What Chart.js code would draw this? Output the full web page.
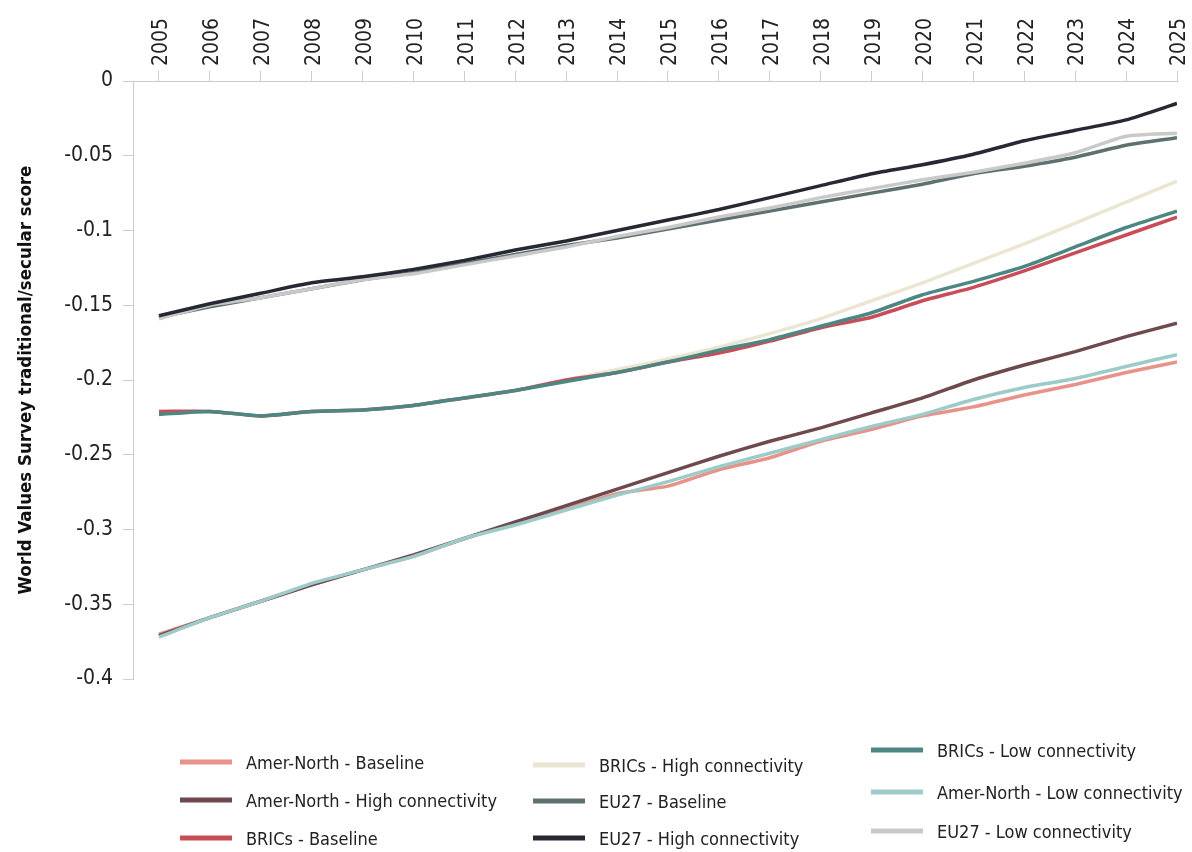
<!DOCTYPE html>
<html>
<head>
<meta charset="utf-8">
<script src="https://cdn.jsdelivr.net/npm/chart.js@4"></script>
<style>
  body { margin: 0; background: #fff; }
  .wrap { position: relative; width: 1192px; height: 852px; overflow: hidden; }
  canvas { position: absolute; left: 0; top: 0; }
  .legend { position: absolute; left: 0; top: 0; width: 1192px; height: 852px; pointer-events: none;
    font-family: 'Liberation Sans Narrow', 'DejaVu Sans Condensed', sans-serif; font-size: 18px; color: #222; }
  .item { position: absolute; display: flex; align-items: center; white-space: nowrap; transform: translateY(-50%); }
  .item span.swatch { display: inline-block; width: 52px; height: 5px; margin-right: 14px; }
</style>
</head>
<body>
<div class="wrap">
  <canvas id="chart" width="1192" height="852"></canvas>
  <div class="legend" id="legend"></div>
</div>
<script>
const years = [2005, 2006, 2007, 2008, 2009, 2010, 2011, 2012, 2013, 2014, 2015, 2016, 2017, 2018, 2019, 2020, 2021, 2022, 2023, 2024, 2025]

const amerNorthBaseline = [-0.370, -0.359, -0.348, -0.337, -0.327, -0.318, -0.306, -0.296, -0.286, -0.276, -0.271, -0.260, -0.252, -0.241, -0.233, -0.224, -0.218, -0.210, -0.203, -0.195, -0.188]
const amerNorthHigh = [-0.371, -0.359, -0.348, -0.337, -0.327, -0.317, -0.306, -0.295, -0.284, -0.273, -0.262, -0.251, -0.241, -0.232, -0.222, -0.212, -0.200, -0.190, -0.181, -0.171, -0.162]
const bricsBaseline = [-0.221, -0.221, -0.224, -0.221, -0.220, -0.217, -0.212, -0.207, -0.200, -0.195, -0.188, -0.182, -0.174, -0.165, -0.158, -0.147, -0.138, -0.127, -0.115, -0.103, -0.091]
const bricsHigh = [-0.222, -0.221, -0.224, -0.221, -0.220, -0.217, -0.212, -0.207, -0.200, -0.193, -0.186, -0.178, -0.169, -0.159, -0.147, -0.135, -0.122, -0.109, -0.095, -0.081, -0.067]
const eu27Baseline = [-0.158, -0.151, -0.145, -0.139, -0.133, -0.128, -0.122, -0.116, -0.110, -0.105, -0.099, -0.093, -0.087, -0.081, -0.075, -0.069, -0.062, -0.057, -0.051, -0.043, -0.038]
const eu27High = [-0.157, -0.149, -0.142, -0.135, -0.131, -0.126, -0.120, -0.113, -0.107, -0.100, -0.093, -0.086, -0.078, -0.070, -0.062, -0.056, -0.049, -0.040, -0.033, -0.026, -0.015]
const bricsLow = [-0.223, -0.221, -0.224, -0.221, -0.220, -0.217, -0.212, -0.207, -0.201, -0.195, -0.188, -0.180, -0.173, -0.164, -0.155, -0.143, -0.134, -0.124, -0.111, -0.098, -0.087]
const amerNorthLow = [-0.372, -0.359, -0.348, -0.336, -0.327, -0.318, -0.306, -0.297, -0.287, -0.277, -0.268, -0.258, -0.249, -0.240, -0.231, -0.223, -0.213, -0.205, -0.199, -0.191, -0.183]
const eu27Low = [-0.159, -0.150, -0.145, -0.139, -0.133, -0.129, -0.123, -0.117, -0.111, -0.104, -0.098, -0.091, -0.085, -0.078, -0.072, -0.066, -0.061, -0.055, -0.048, -0.037, -0.035]

const yTicks = [0, -0.05, -0.1, -0.15, -0.2, -0.25, -0.3, -0.35, -0.4]

// order: lower number is drawn on top
const series = [
    { label: 'Amer-North - Baseline', data: amerNorthBaseline, color: '#e8938a', order: 3 },
    { label: 'Amer-North - High connectivity', data: amerNorthHigh, color: '#6e4a4e', order: 2 },
    { label: 'BRICs - Baseline', data: bricsBaseline, color: '#c94d59', order: 3 },
    { label: 'BRICs - High connectivity', data: bricsHigh, color: '#ebe5d3', order: 3 },
    { label: 'EU27 - Baseline', data: eu27Baseline, color: '#5e7070', order: 3 },
    { label: 'EU27 - High connectivity', data: eu27High, color: '#262833', order: 0 },
    { label: 'BRICs - Low connectivity', data: bricsLow, color: '#4d8782', order: 1 },
    { label: 'Amer-North - Low connectivity', data: amerNorthLow, color: '#9dcbc9', order: 1 },
    { label: 'EU27 - Low connectivity', data: eu27Low, color: '#c9c9c9', order: 2 },
]

const font = "'Liberation Sans Narrow', 'DejaVu Sans Condensed', sans-serif"
const axisColor = '#cccccc'

const ctx = document.getElementById('chart').getContext('2d')
const chart = new Chart(ctx, {
    type: 'line',
    data: {
        datasets: series.map((s) => ({
            label: s.label,
            data: s.data.map((v, i) => ({ x: years[i], y: v })),
            borderColor: s.color,
            backgroundColor: s.color,
            borderWidth: 3.5,
            pointRadius: 0,
            tension: 0.2,
            order: s.order,
        })),
    },
    options: {
        responsive: false,
        animation: false,
        layout: { padding: { left: 0, top: 0, right: 15, bottom: 173 } },
        plugins: {
            legend: { display: false },
            tooltip: { enabled: false },
        },
        scales: {
            x: {
                type: 'linear',
                position: 'top',
                min: 2004.49,
                max: 2025,
                afterFit: (s) => { s.height = 81 },
                afterBuildTicks: (s) => { s.ticks = years.map((y) => ({ value: y })) },
                ticks: {
                    minRotation: 90,
                    maxRotation: 90,
                    padding: 5,
                    labelOffset: 28,
                    color: '#222',
                    font: { family: font, size: 21 },
                    callback: (v) => String(v),
                },
                grid: { drawOnChartArea: false, drawTicks: true, tickLength: 10, color: axisColor },
                border: { display: true, color: axisColor },
            },
            y: {
                min: -0.4,
                max: 0,
                afterFit: (s) => { s.width = 133 },
                afterBuildTicks: (s) => { s.ticks = yTicks.map((v) => ({ value: v })) },
                ticks: {
                    padding: 10,
                    color: '#222',
                    font: { family: font, size: 21 },
                    callback: (v) => String(Math.round(v * 100) / 100),
                },
                grid: { drawOnChartArea: false, drawTicks: true, tickLength: 10, color: axisColor },
                border: { display: true, color: axisColor },
                title: {
                    display: true,
                    text: 'World Values Survey traditional/secular score',
                    color: '#111',
                    font: { family: font, size: 18.5, weight: 'bold' },
                    padding: { top: 15, bottom: 0 },
                },
            },
        },
    },
})

// legend, three columns like the original
const columns = [
    { left: 180, rows: [762, 800, 838] },
    { left: 533, rows: [765, 801, 838] },
    { left: 871, rows: [750, 792, 831] },
]
const legendEl = document.getElementById('legend')
series.forEach((s, i) => {
    const col = columns[Math.floor(i / 3)]
    const item = document.createElement('div')
    item.className = 'item'
    item.style.left = col.left + 'px'
    item.style.top = col.rows[i % 3] + 'px'
    const sw = document.createElement('span')
    sw.className = 'swatch'
    sw.style.background = s.color
    item.appendChild(sw)
    item.appendChild(document.createTextNode(s.label))
    legendEl.appendChild(item)
})
</script>
</body>
</html>
